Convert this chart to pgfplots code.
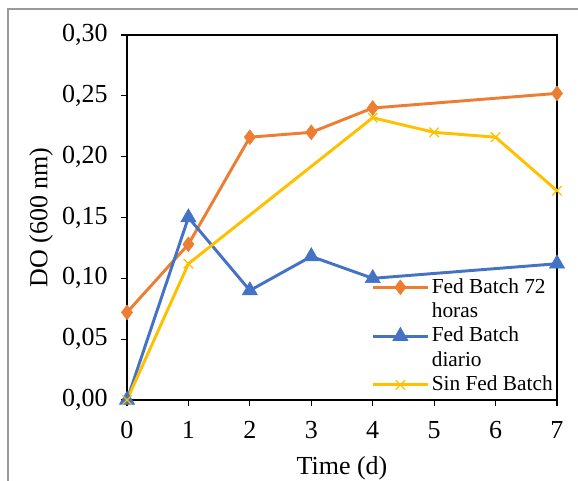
\documentclass[border=0pt]{standalone}
\usepackage{pgfplots}
\pgfplotsset{compat=1.18}
\usepackage{fontspec}
\setmainfont{Liberation Serif}
\definecolor{cOr}{HTML}{ED7D31}
\definecolor{cBl}{HTML}{4472C4}
\definecolor{cYe}{HTML}{FFC000}
\begin{document}
\fontsize{16}{19}\selectfont
\begin{tikzpicture}
\begin{axis}[
  scale only axis,
  width=322.5pt, height=273.75pt,
  xmin=0, xmax=7, ymin=0, ymax=0.30,
  xtick={0,...,7},
  ytick={0,0.05,0.10,0.15,0.20,0.25,0.30},
  tick align=outside,
  xtick pos=bottom, ytick pos=left,
  major tick length=4.5pt,
  tick style={black, line width=0.9pt},
  axis line style={black, line width=1.3pt},
  clip=false,
  /pgf/number format/assume math mode=true,
  yticklabel style={/pgf/number format/.cd, fixed, fixed zerofill, precision=2, use comma, /tikz/.cd, xshift=-4.5pt},
  xticklabel style={/pgf/number format/.cd, fixed, precision=0, /tikz/.cd, yshift=-6pt},
  ticklabel style={font=\fontsize{19.5}{23}\selectfont},
  xlabel={Time (d)}, ylabel={DO (600 nm)},
  label style={font=\fontsize{19.5}{23}\selectfont},
  xlabel style={yshift=-2pt},
  ylabel style={yshift=-4pt},
  legend style={draw=none, fill=none, at={(rel axis cs:1,0.005)}, anchor=south east,
    font=\fontsize{16}{18}\selectfont, row sep=0.8pt, inner sep=1pt},
  legend cell align=left,
  legend image code/.code={\draw[mark repeat=2,mark phase=2] plot coordinates {(0pt,0pt)(20.5pt,0pt)(41pt,0pt)};},
]
\addplot[cOr, line width=2.2pt, mark=diamond*, mark size=5.5pt, mark options={solid, line width=0.5pt}]
 coordinates {(0,0.072)(1,0.128)(2,0.216)(3,0.220)(4,0.240)(7,0.252)};
\addlegendentry{Fed Batch 72}
\addlegendimage{empty legend}
\addlegendentry{horas}
\addplot[cBl, line width=2.2pt, mark=triangle*, mark size=6.5pt, mark options={solid, line width=0.5pt}]
 coordinates {(0,0)(1,0.150)(2,0.090)(3,0.118)(4,0.100)(7,0.112)};
\addlegendentry{Fed Batch}
\addlegendimage{empty legend}
\addlegendentry{diario}
\addplot[cYe, line width=2.2pt, mark=x, mark size=5pt, mark options={solid, line width=1pt}]
 coordinates {(0,0)(1,0.112)(4,0.232)(5,0.220)(6,0.216)(7,0.172)};
\addlegendentry{Sin Fed Batch}
\coordinate (imgTL) at (rel axis cs:-0.29535,1.09589);
\coordinate (imgBR) at (rel axis cs:1.04884,-0.22192);
\coordinate (frTL) at (rel axis cs:-0.27674,1.07123);
\end{axis}
\draw[gray!80, line width=1.2pt] (frTL |- imgBR) -- (frTL) -- (frTL -| imgBR);
\pgfresetboundingbox
\path[use as bounding box] (imgTL) rectangle (imgBR);
\end{tikzpicture}
\end{document}
